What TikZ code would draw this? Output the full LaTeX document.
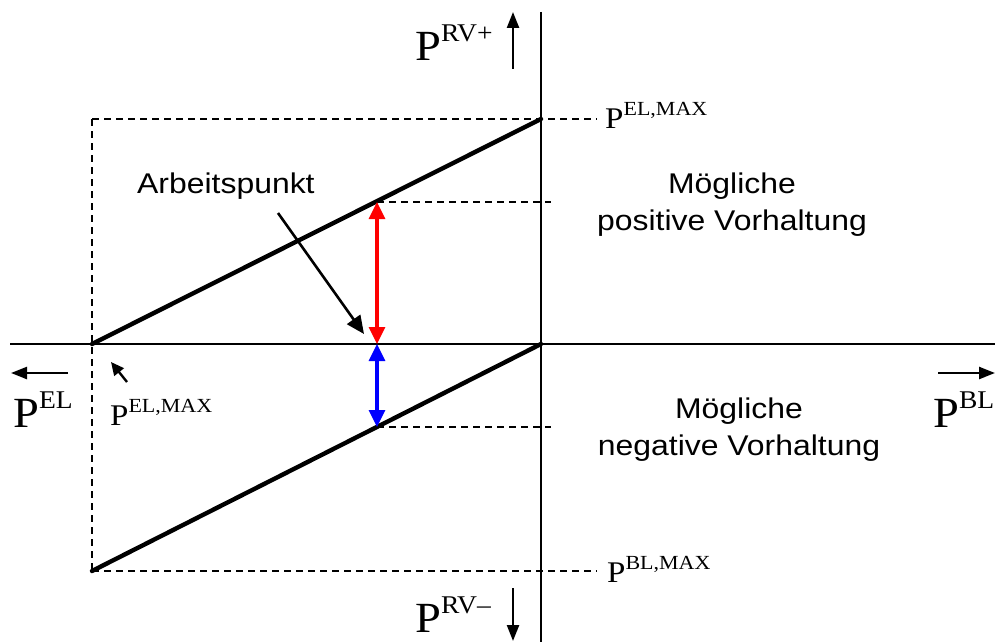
\documentclass[tikz,border=0pt]{standalone}
\usepackage{fontspec}
\setmainfont{Liberation Serif}
\newfontfamily\arialf{Liberation Sans}
\usetikzlibrary{arrows.meta}
\tikzset{
  axis/.style={line width=2.1pt},
  thickline/.style={line width=4.4pt},
  guide/.style={line width=1.7pt, dash pattern=on 7pt off 5pt},
  dirarrow/.style={line width=2.4pt, -{Triangle[length=16pt,width=12pt]}},
  dblarrow/.style={line width=3.2pt, {Triangle[length=17pt,width=16pt]}-{Triangle[length=17pt,width=16pt]}},
  ptr/.style={line width=2.6pt, -{Triangle[length=18pt,width=16pt]}},
  lbl/.style={inner sep=0pt, anchor=base west},
  sanslbl/.style={inner sep=0pt, anchor=base, font=\arialf\fontsize{28.5}{34}\selectfont}
}
\newcommand{\bigP}[1]{\scalebox{1.08}[1]{\fontsize{43}{46}\selectfont P\raisebox{19pt}{\fontsize{25.5}{27}\selectfont #1}}}
\newcommand{\smallP}[1]{\scalebox{1.1}[1]{\fontsize{30}{32}\selectfont P\raisebox{13pt}{\fontsize{20}{22}\selectfont #1}}}
\newcommand{\stx}[1]{\scalebox{1.12}[1]{#1}}
\begin{document}
\begin{tikzpicture}[x=1pt,y=-1pt]
\useasboundingbox (0,0) rectangle (1001,642);
% geometry
\coordinate (O) at (541,344);
\coordinate (L) at (92,344);
\coordinate (TL) at (92,119);
\coordinate (TR) at (541,119);
\coordinate (BL) at (92,571);
\coordinate (TRe) at (597,119);
\coordinate (BRe) at (597,571);
\coordinate (axL) at (10,344);
\coordinate (axR) at (995,344);
\coordinate (axT) at (541,12);
\coordinate (axB) at (541,642);
\coordinate (up) at (377,202);
\coordinate (mid) at (377,344);
\coordinate (dn) at (377,427);
\coordinate (upE) at (551,202);
\coordinate (dnE) at (551,427);
% dashed guides
\draw[guide] (TL) -- (TRe);
\draw[guide] (BL) -- (BRe);
\draw[guide] (TL) -- (BL);
\draw[guide] (up) -- (upE);
\draw[guide] (dn) -- (dnE);
% axes
\draw[axis] (axL) -- (axR);
\draw[axis] (axT) -- (axB);
% thick lines
\draw[thickline, line cap=round] (L) -- (TR);
\draw[thickline, line cap=round] (BL) -- (O);
% double arrows
\draw[dblarrow, red] (up) -- (mid);
\draw[dblarrow, blue] (mid) -- (dn);
% direction arrows
\coordinate (rvpA) at (513,69); \coordinate (rvpB) at (513,12);
\coordinate (rvmA) at (513,588); \coordinate (rvmB) at (513,641);
\coordinate (elA) at (68,373); \coordinate (elB) at (11,373);
\coordinate (blA) at (938,373); \coordinate (blB) at (995,373);
\draw[dirarrow] (rvpA) -- (rvpB);
\draw[dirarrow] (rvmA) -- (rvmB);
\draw[dirarrow] (elA) -- (elB);
\draw[dirarrow] (blA) -- (blB);
% labels
\node[lbl] (lrvp) at (415,60) {\bigP{RV+}};
\node[lbl] (lrvm) at (415,632) {\bigP{RV\textendash}};
\node[lbl] (lel) at (13,427) {\bigP{EL}};
\node[lbl] (lbl) at (933,427) {\bigP{BL}};
\node[lbl] (lelmax1) at (605,128) {\smallP{EL,MAX}};
\node[lbl] (lelmax2) at (110,425) {\smallP{EL,MAX}};
\node[lbl] (lblmax) at (607,582) {\smallP{BL,MAX}};
% sans texts
\node[sanslbl, anchor=base west] (arb) at (137,193) {\stx{Arbeitspunkt}};
\node[sanslbl] (pos1) at (732,193) {\stx{Mögliche}};
\node[sanslbl] (pos2) at (732,230) {\stx{positive Vorhaltung}};
\node[sanslbl] (neg1) at (739,418) {\stx{Mögliche}};
\node[sanslbl] (neg2) at (739,455) {\stx{negative Vorhaltung}};
% pointers
\coordinate (arbS) at (278,213);
\coordinate (arbT) at (364,334);
\draw[ptr] (arbS) -- (arbT);
\coordinate (smS) at (127,382);
\coordinate (smT) at (111,362);
\draw[line width=2.4pt, -{Triangle[length=13pt,width=12pt]}] (smS) -- (smT);
\end{tikzpicture}
\end{document}
